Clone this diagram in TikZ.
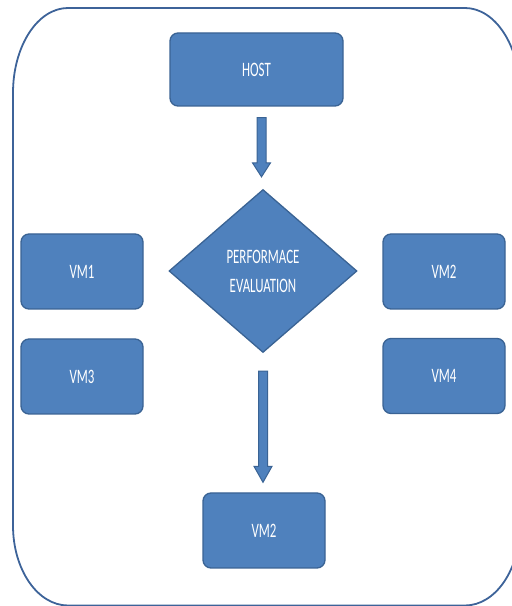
\documentclass[tikz,border=0pt]{standalone}
\usepackage{fontspec}
\setmainfont{Carlito}
\usetikzlibrary{shapes.geometric,calc}
\definecolor{boxfill}{HTML}{4F81BD}
\definecolor{boxline}{HTML}{3A6394}
\definecolor{frameline}{HTML}{3D6399}
\newcommand{\sqz}[1]{\scalebox{0.63}[1]{#1}}
\tikzset{
  vmbox/.style={draw=boxline, fill=boxfill, line width=1.3pt, rounded corners=8pt,
    minimum width=122pt, minimum height=75pt, inner sep=0pt, text=white,
    font=\fontsize{20.5}{29}\selectfont},
  decision/.style={draw=boxline, fill=boxfill, line width=1.3pt, shape=diamond,
    minimum width=188pt, minimum height=163pt, inner sep=0pt, text=white, align=center,
    font=\fontsize{20.5}{29}\selectfont},
  blockarrow/.style={draw=boxline, fill=boxfill, line width=1pt, line join=miter},
  frame/.style={draw=frameline, line width=1.8pt}
}
\begin{document}
\begin{tikzpicture}[x=1pt,y=1pt]
\useasboundingbox (0,0) rectangle (512,606);
\clip (0,0) rectangle (512,606);
% outer frame
\draw[frame] (13,513) arc[start angle=180,end angle=90,x radius=55,y radius=85]
  -- (465,598) arc[start angle=90,end angle=0,x radius=55,y radius=85]
  -- (520,80.5) arc[start angle=0,end angle=-90,x radius=55,y radius=80]
  -- (68,0.5) arc[start angle=270,end angle=180,x radius=55,y radius=80] -- cycle;
% nodes
\node[vmbox, minimum width=173pt, minimum height=73pt] (host) at (256.5,536.5) {\sqz{HOST}};
\node[decision] (perf) at (263,335) {\sqz{PERFORMACE}\\\sqz{EVALUATION}};
\node[vmbox] (vm1) at (82,334.5) {\sqz{VM1}};
\node[vmbox] (vm3) at (82,229.5) {\sqz{VM3}};
\node[vmbox] (vm2) at (444,334.5) {\sqz{VM2}};
\node[vmbox] (vm4) at (444,230) {\sqz{VM4}};
\node[vmbox] (vm2b) at (264,75.5) {\sqz{VM2}};
% block arrows
\coordinate (a1) at ($(host.south)+(5,-11)$);
\coordinate (b1) at ($(perf.north)+(-1.5,-0)+(0,12)$);
\draw[blockarrow] ($(a1)+(-4.5,0)$) -- ($(b1)+(-4.5,14)$) -- ($(b1)+(-9,14)$) -- (b1)
  -- ($(b1)+(9,14)$) -- ($(b1)+(4.5,14)$) -- ($(a1)+(4.5,0)$) -- cycle;
\coordinate (a2) at ($(perf.south)+(0,-18)$);
\coordinate (b2) at ($(vm2b.north)+(-1,10)$);
\draw[blockarrow] ($(a2)+(-4.5,0)$) -- ($(a2|-b2)+(-4.5,16)$) -- ($(b2)+(-9,16)$) -- (b2)
  -- ($(b2)+(9,16)$) -- ($(a2|-b2)+(4.5,16)$) -- ($(a2)+(4.5,0)$) -- cycle;
\end{tikzpicture}
\end{document}
